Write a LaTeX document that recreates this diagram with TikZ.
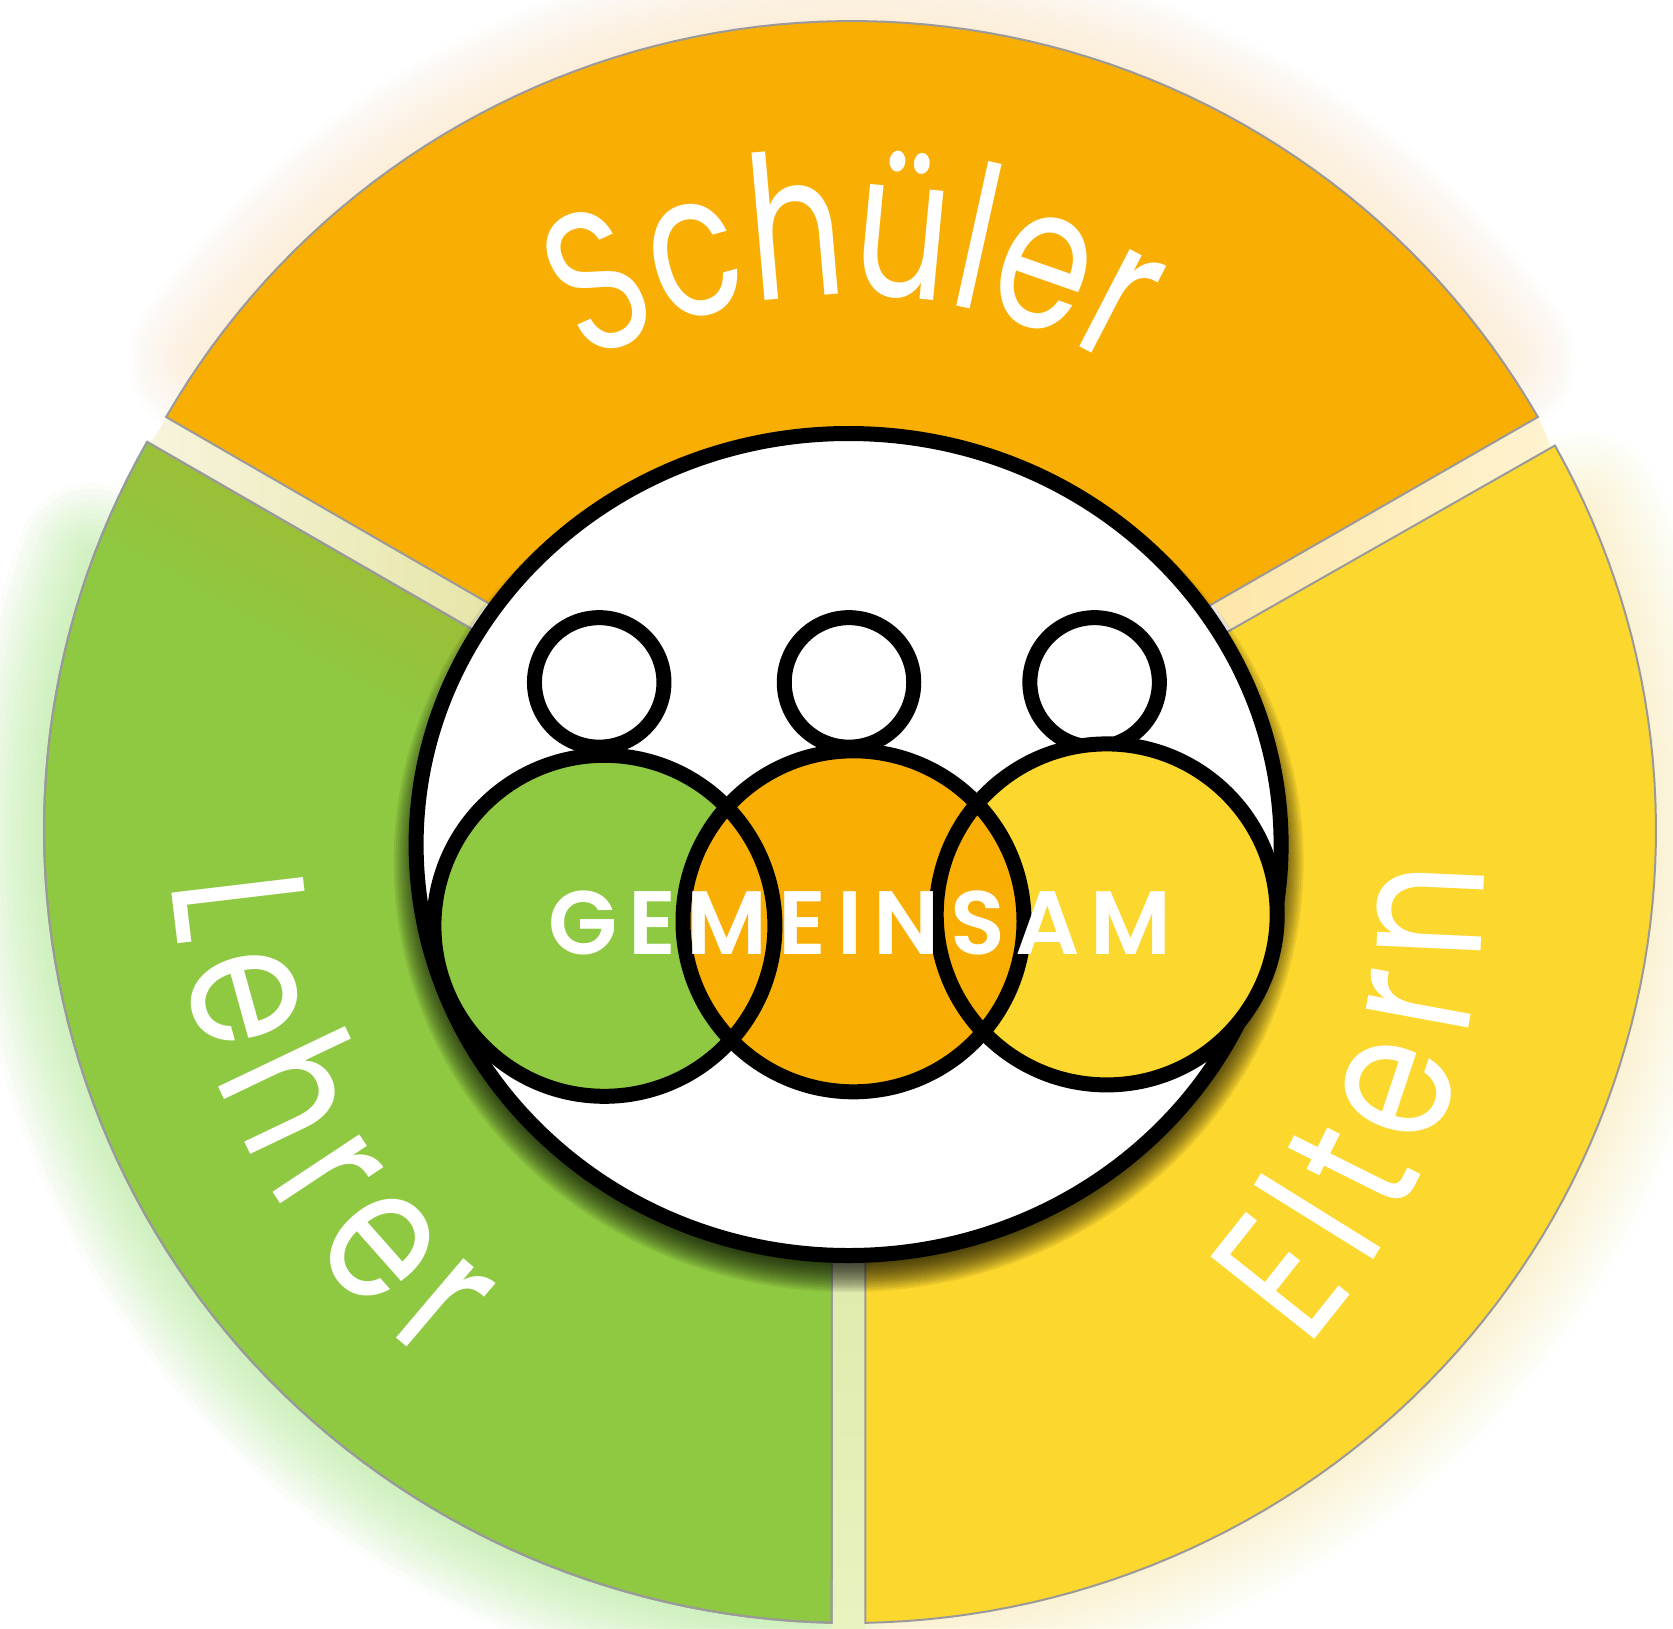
\documentclass[tikz,border=0pt]{standalone}
\usepackage{fontspec}
\usetikzlibrary{decorations.text}
\newfontfamily\arcfa{Poppins}[FakeStretch=0.75]
\newfontfamily\arcfb{Poppins}[FakeStretch=0.8]
\newfontfamily\gemf{Poppins SemiBold}[LetterSpace=12]
\definecolor{cGreen}{HTML}{8FC841}
\definecolor{cOrange}{HTML}{F9AE04}
\definecolor{cYellow}{HTML}{FCD72D}
\definecolor{cEdge}{HTML}{9A9A9A}
\definecolor{cOlive}{HTML}{D0C030}
\definecolor{hGreen}{HTML}{A8E888}
\definecolor{hOrange}{HTML}{FCDCA8}
\definecolor{hYellow}{HTML}{FBE890}
\definecolor{gapLa}{HTML}{F7F4DC}
\definecolor{gapLb}{HTML}{E6E6A8}
\definecolor{gapRa}{HTML}{FDE6A8}
\definecolor{gapRb}{HTML}{FEF3D0}
\definecolor{gapBa}{HTML}{DDE9A8}
\definecolor{gapBb}{HTML}{E8F3C0}
\newcommand\schfont{\fontsize{200}{200}\selectfont\arcfa\color{white}}
\newcommand\lehfont{\fontsize{190}{190}\selectfont\arcfb\color{white}}
\newcommand\eltfont{\fontsize{190}{190}\selectfont\arcfb\color{white}}
\def\greenarc{plot[domain=91.3:209.3,samples=80] ({850+806*cos(\x)},{830+793*sin(\x)})}
\def\yellowarc{plot[domain=-29:88.9,samples=80] ({850+806*cos(\x)},{830+793*sin(\x)})}
\def\orangearc{plot[domain=210:330,samples=80] ({852+792*cos(\x)},{813+792*sin(\x)})}
\def\greenglow{plot[domain=93:200,samples=60] ({850+806*cos(\x)},{830+793*sin(\x)})}
\def\yellowglow{plot[domain=-24:87,samples=60] ({850+806*cos(\x)},{830+793*sin(\x)})}
\def\orangeglow{plot[domain=215:325,samples=60] ({852+792*cos(\x)},{813+792*sin(\x)})}
\tikzset{
  sector/.style={draw=cEdge,line width=2pt,line join=miter},
  ring/.style={draw=black,line width=15pt},
  halo/.style={line cap=round,line join=round},
}
\begin{document}
\begin{tikzpicture}[x=1pt,y=-1pt]
\useasboundingbox (0,0) rectangle (1673,1628);
\clip (0,0) rectangle (1673,1628);
\fill[white] (0,0) rectangle (1673,1628);
% soft glows
\foreach \w in {8,20,...,152}{
  \draw[halo,hGreen,line width=\w pt,opacity=.05] \greenglow;
  \draw[halo,hOrange,line width=\w pt,opacity=.035] \orangeglow;
  \draw[halo,hYellow,line width=\w pt,opacity=.03] \yellowglow;
}
% gaps
\path[left color=gapLa,right color=gapLb] (167,417) -- (488,602) -- (470,628) -- (150,444) -- cycle;
\path[left color=gapRa,right color=gapRb] (1537,414) -- (1212,603) -- (1230,630) -- (1551,447) -- cycle;
\path[top color=gapBa,bottom color=gapBb] (832,1200) -- (865,1200) -- (865,1628) -- (832,1628) -- cycle;
% sectors
\filldraw[sector,fill=cGreen] \greenarc -- (470,628) -- (832,836) -- cycle;
\begin{scope}
  \clip \greenarc -- (470,628) -- (832,836) -- cycle;
  \foreach \w in {20,40,...,200}{
    \draw[cOlive,opacity=.03,line width=\w pt] (150,444) -- (832,836);
  }
\end{scope}
\draw[sector] \greenarc -- (470,628) -- (832,836) -- cycle;
\filldraw[sector,fill=cOrange] \orangearc -- (850,812) -- cycle;
\filldraw[sector,fill=cYellow] \yellowarc -- (865,838) -- cycle;
% arc labels
\path[decorate,decoration={text along path,text align={fit to path},text={|\schfont|Schüler}}]
  plot[domain=240.5:297.5,samples=100] ({850+535*cos(\x)},{830+535*sin(\x)});
\path[decorate,decoration={text along path,text align={fit to path},text={|\lehfont|Lehrer}}]
  plot[domain=175.7:128,samples=100] ({850+681*cos(\x)},{830+681*sin(\x)});
\path[decorate,decoration={text along path,text align={fit to path},text={|\eltfont|Eltern}}]
  plot[domain=41.8:-1.7,samples=100] ({790+693*cos(\x)},{886+693*sin(\x)});
% shadow of the inner disc
\foreach \k in {0,2,...,30}{
  \fill[black,opacity=.07] (848.6,862) ellipse [x radius={425+\k},y radius={400+\k}];
}
% inner disc
\filldraw[ring,fill=white] (848.6,844.5) ellipse [x radius=432.5,y radius=411];
% heads
\node[circle,ring,minimum size=129.5pt,inner sep=0pt] (head1) at (599.2,682.4) {};
\node[circle,ring,minimum size=129.5pt,inner sep=0pt] (head2) at (849,682.4) {};
\node[circle,ring,minimum size=129.5pt,inner sep=0pt] (head3) at (1094.6,682.4) {};
% bodies
\fill[cGreen] (604.4,925.8) circle [radius=170.5];
\fill[cYellow] (1106.7,914.4) circle [radius=170.5];
\fill[cOrange] (853.5,921.3) circle [radius=170.5];
\draw[ring] (604.4,925.8) circle [radius=170.5];
\draw[ring] (1106.7,914.4) circle [radius=170.5];
\draw[ring] (853.5,921.3) circle [radius=170.5];
\node[text=white,inner sep=0pt,anchor=base,font=\fontsize{90}{90}\selectfont\gemf] (gem) at (860,954) {GEMEINSAM};
\end{tikzpicture}
\end{document}
